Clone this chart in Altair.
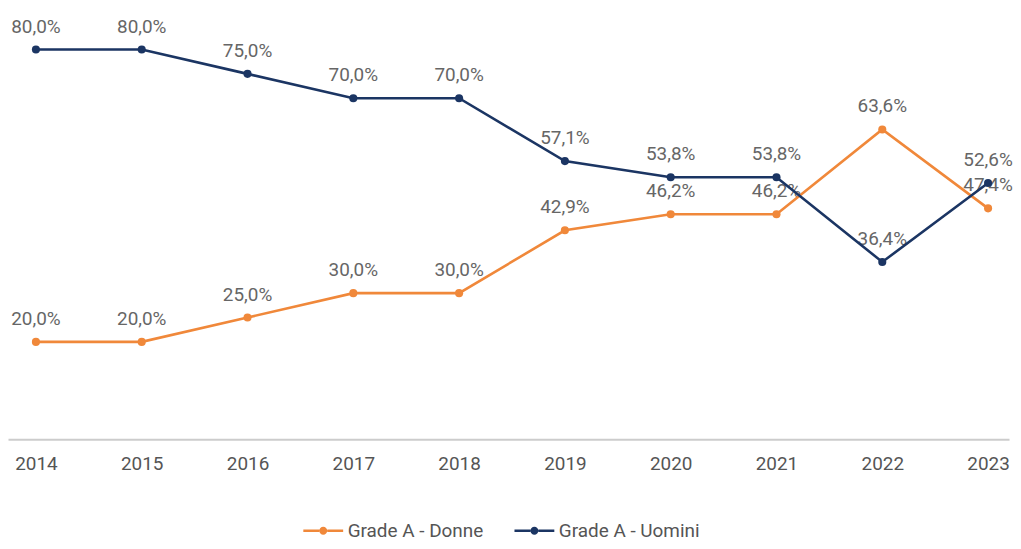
import altair as alt
import pandas as pd

years = [2014, 2015, 2016, 2017, 2018, 2019, 2020, 2021, 2022, 2023]
donne = [20.0, 20.0, 25.0, 30.0, 30.0, 42.9, 46.2, 46.2, 63.6, 47.4]
uomini = [80.0, 80.0, 75.0, 70.0, 70.0, 57.1, 53.8, 53.8, 36.4, 52.6]
series_names = ["Grade A - Donne", "Grade A - Uomini"]
colors = ["#F0883A", "#1B3563"]

rows = []
for name, vals in zip(series_names, [donne, uomini]):
    for y, v in zip(years, vals):
        rows.append({"year": y, "value": v, "series": name,
                     "label": f"{v:.1f}%".replace(".", ",")})
df = pd.DataFrame(rows)

FONT = "Roboto"
W, H = 1005, 432
# line-with-dot legend symbol (path units scaled by 8px)
legend_symbol = ("M -2.5 -0.16 L -0.5 -0.16 L -0.5 0.16 L -2.5 0.16 Z "
                 "M 0.5 -0.16 L 2.5 -0.16 L 2.5 0.16 L 0.5 0.16 Z "
                 "M 0.5 0 A 0.5 0.5 0 1 1 -0.5 0 A 0.5 0.5 0 1 1 0.5 0 Z")

x = alt.X("year:Q", title=None,
          scale=alt.Scale(domain=[2013.736, 2023.198], nice=False, zero=False),
          axis=alt.Axis(values=years, format="d", labelAngle=0, ticks=False,
                        domainColor="#cccccc", domainWidth=2,
                        labelFontSize=19, labelColor="#555555",
                        labelFont=FONT, labelPadding=15, grid=False))
y = alt.Y("value:Q", title=None, scale=alt.Scale(domain=[0, 88.3], nice=False, zero=True),
          axis=None)
cscale = alt.Scale(domain=series_names, range=colors)
color_leg = alt.Color("series:N", scale=cscale,
                      legend=alt.Legend(title=None, orient="none", legendX=307, legendY=514,
                                        direction="horizontal", symbolType=legend_symbol,
                                        symbolSize=256, symbolStrokeWidth=0,
                                        labelFontSize=19, labelColor="#555555", labelFont=FONT,
                                        columnPadding=30, labelOffset=15))

base = alt.Chart(df).encode(x=x, y=y)
line_layers = [
    base.transform_filter(alt.datum.series == name).mark_line(strokeWidth=2.6, color=col)
    for name, col in zip(series_names, colors)
]
points = base.mark_circle(size=66, opacity=1).encode(color=color_leg)
labels = base.mark_text(dy=-23, fontSize=19, font=FONT, color="#666666").encode(
    text="label:N")

chart = alt.layer(labels, *line_layers, points).properties(
    width=W, height=H, padding={"left": 0, "top": 0, "right": 0, "bottom": 0}
).configure_view(stroke=None)

chart.save("out.html", embed_options={"renderer": "svg", "actions": False})
